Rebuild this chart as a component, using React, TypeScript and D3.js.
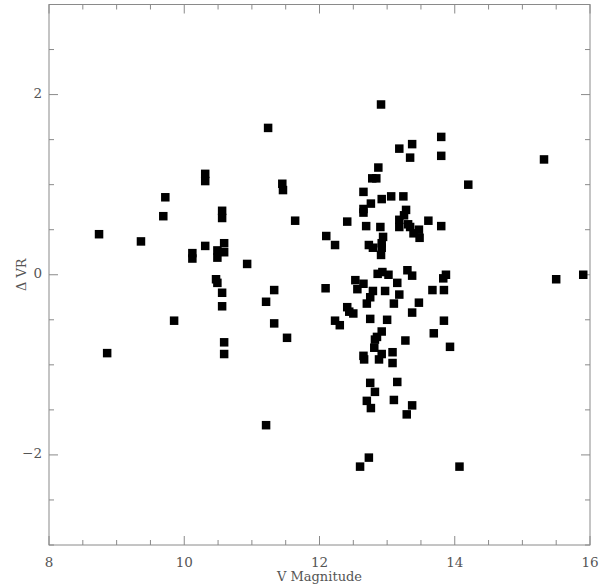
import React from "react";
import * as d3 from "d3";

const magnitudes: number[] = [
  8.74, 8.86, 9.36, 9.72, 9.69, 9.85, 10.12, 10.12, 10.31, 10.31, 10.31, 10.47, 10.49, 10.49, 10.49,
  10.56, 10.56, 10.59, 10.59, 10.56, 10.56, 10.59, 10.59, 10.93, 11.24, 11.45, 11.46, 11.64, 11.33,
  11.21, 11.33, 11.52, 11.21,
  12.91, 13.18, 13.37, 13.34, 12.87, 12.78, 12.84, 12.65, 12.76, 12.92, 13.06, 13.24, 12.65, 12.65,
  13.28, 13.25, 12.41, 13.18, 13.61, 13.18, 13.31, 13.34, 13.39, 13.47, 13.48, 12.10, 12.23, 12.69,
  12.90, 12.94, 12.73, 12.79, 12.92, 12.92, 12.91, 13.80, 13.80, 13.80, 14.20, 15.32,
  12.53, 12.65, 12.56, 12.09, 12.86, 12.93, 13.02, 13.30, 13.37, 13.15, 13.18, 12.79, 12.75, 12.97,
  12.70, 13.10, 13.47, 13.37, 12.41, 12.44, 12.50, 12.23, 12.30, 12.75, 13.00, 12.92, 12.85, 13.27,
  12.82, 12.81, 12.65, 12.66, 12.92, 12.88, 13.08, 13.08, 12.75, 13.15, 12.82, 12.70, 12.76, 13.10,
  13.37, 13.29, 12.73, 12.60, 13.87, 13.83, 15.50, 15.90, 13.67, 13.84, 13.84, 13.69, 13.93, 14.07,
];

const deltaVR: number[] = [
  0.45, -0.87, 0.37, 0.86, 0.65, -0.51, 0.24, 0.18, 1.12, 1.04, 0.32, -0.05, -0.09, 0.27, 0.19,
  0.71, 0.63, 0.35, 0.25, -0.20, -0.35, -0.75, -0.88, 0.12, 1.63, 1.01, 0.94, 0.60, -0.17,
  -0.30, -0.54, -0.70, -1.67,
  1.89, 1.40, 1.45, 1.30, 1.19, 1.07, 1.07, 0.92, 0.79, 0.84, 0.87, 0.87, 0.73, 0.69,
  0.72, 0.66, 0.59, 0.61, 0.60, 0.53, 0.56, 0.53, 0.46, 0.50, 0.41, 0.43, 0.33, 0.54,
  0.53, 0.42, 0.33, 0.30, 0.35, 0.30, 0.22, 1.53, 1.32, 0.54, 1.00, 1.28,
  -0.06, -0.10, -0.16, -0.15, 0.01, 0.03, 0.00, 0.05, -0.01, -0.09, -0.22, -0.18, -0.25, -0.18,
  -0.32, -0.32, -0.31, -0.42, -0.36, -0.41, -0.43, -0.51, -0.56, -0.49, -0.50, -0.63, -0.69, -0.73,
  -0.72, -0.81, -0.90, -0.94, -0.88, -0.94, -0.86, -0.98, -1.20, -1.19, -1.30, -1.40, -1.48, -1.39,
  -1.45, -1.55, -2.03, -2.13, 0.00, -0.04, -0.05, 0.00, -0.17, -0.17, -0.51, -0.65, -0.80, -2.13,
];

const xMajorTicks: number[] = [8, 10, 12, 14, 16];
const yMajorTicks: number[] = [-2, 0, 2];
const xTitle = "V Magnitude";
const yTitle = "\u0394 VR";

const W = 600;
const H = 586;
const left = 49;
const right = 590;
const top = 4.5;
const bottom = 545;

export default function App() {
  const x = d3.scaleLinear().domain([8, 16]).range([left, right]);
  const y = d3.scaleLinear().domain([-3, 3]).range([bottom, top]);
  const xMinor = d3.range(8, 16.001, 0.5);
  const yMinor = d3.range(-3, 3.001, 0.5);
  const axisColor = "#8a8a8a";
  const textColor = "#555";
  const font = "'DejaVu Serif', 'Liberation Serif', serif";
  const sq = 8.5;
  const isMajorX = (v: number) => xMajorTicks.some((t) => Math.abs(t - v) < 1e-6);
  const isMajorY = (v: number) => yMajorTicks.some((t) => Math.abs(t - v) < 1e-6);

  return (
    <svg width={W} height={H} style={{ position: "absolute", left: 0, top: 0, background: "#fff" }}>
      <rect x={0} y={0} width={W} height={H} fill="#fff" />
      <rect x={left} y={top} width={right - left} height={bottom - top} fill="none" stroke={axisColor} strokeWidth={1} />
      {xMinor.map((v, i) => {
        const len = isMajorX(v) ? 9 : 5;
        const px = x(v);
        return (
          <g key={"xt" + i}>
            <line x1={px} x2={px} y1={bottom} y2={bottom - len} stroke={axisColor} strokeWidth={1} />
            <line x1={px} x2={px} y1={top} y2={top + len} stroke={axisColor} strokeWidth={1} />
          </g>
        );
      })}
      {yMinor.map((v, i) => {
        const len = isMajorY(v) ? 9 : 5;
        const py = y(v);
        return (
          <g key={"yt" + i}>
            <line x1={left} x2={left + len} y1={py} y2={py} stroke={axisColor} strokeWidth={1} />
            <line x1={right} x2={right - len} y1={py} y2={py} stroke={axisColor} strokeWidth={1} />
          </g>
        );
      })}
      {xMajorTicks.map((v) => (
        <text key={"xl" + v} x={x(v)} y={563} textAnchor="middle" dominantBaseline="middle" fontFamily={font} fontSize={13.5} fill={textColor}>
          {v}
        </text>
      ))}
      {yMajorTicks.map((v) => (
        <text key={"yl" + v} x={42} y={y(v)} textAnchor="end" dominantBaseline="middle" fontFamily={font} fontSize={13.5} fill={textColor}>
          {v < 0 ? "\u2212" + Math.abs(v) : String(v)}
        </text>
      ))}
      <text x={(left + right) / 2} y={577} textAnchor="middle" dominantBaseline="middle" fontFamily={font} fontSize={13} fill={textColor}>
        {xTitle}
      </text>
      <text
        transform={`translate(22,${(top + bottom) / 2}) rotate(-90)`}
        textAnchor="middle"
        dominantBaseline="middle"
        fontFamily={font}
        fontSize={13}
        fill={textColor}
      >
        {yTitle}
      </text>
      {magnitudes.map((m, i) => (
        <rect key={"p" + i} x={x(m) - sq / 2} y={y(deltaVR[i]) - sq / 2} width={sq} height={sq} fill="#000" />
      ))}
    </svg>
  );
}
